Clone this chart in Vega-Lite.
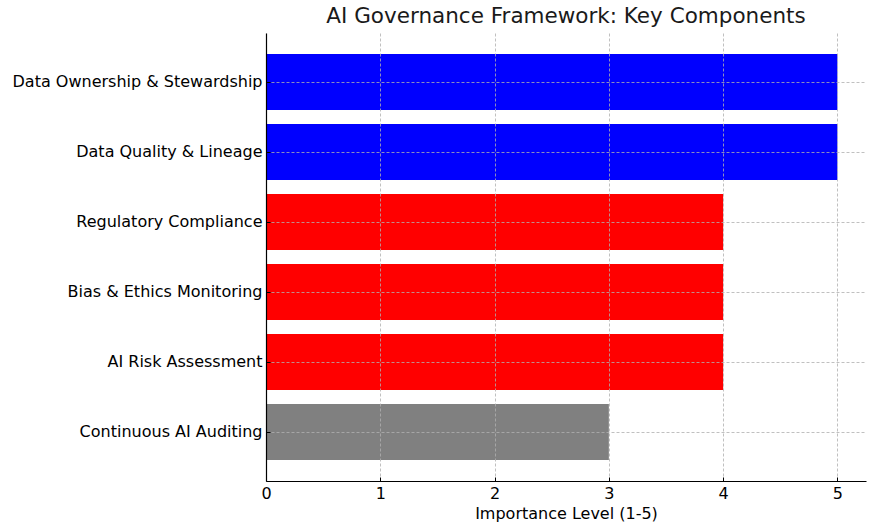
{
  "$schema": "https://vega.github.io/schema/vega-lite/v6.json",
  "width": 600,
  "height": 448,
  "autosize": {"type": "none"},
  "padding": {"left": 266, "top": 33, "right": 9, "bottom": 51},
  "background": "white",
  "title": {"text": "AI Governance Framework: Key Components", "font": "DejaVu Sans", "fontSize": 21.5, "fontWeight": "normal", "color": "#1a1a1a", "anchor": "middle", "offset": 6},
  "data": {"values": [
    {"component": "Data Ownership & Stewardship", "importance": 5, "group": "Data"},
    {"component": "Data Quality & Lineage", "importance": 5, "group": "Data"},
    {"component": "Regulatory Compliance", "importance": 4, "group": "Risk"},
    {"component": "Bias & Ethics Monitoring", "importance": 4, "group": "Risk"},
    {"component": "AI Risk Assessment", "importance": 4, "group": "Risk"},
    {"component": "Continuous AI Auditing", "importance": 3, "group": "Audit"}
  ]},
  "mark": {"type": "bar"},
  "encoding": {
    "y": {"field": "component", "type": "nominal", "sort": null,
      "scale": {"paddingInner": 0.2, "paddingOuter": 0.3},
      "axis": {"title": null, "labelFont": "DejaVu Sans", "labelFontSize": 16, "labelColor": "#000", "labelPadding": 8, "tickSize": -4, "tickColor": "#000", "domainColor": "#000", "domainWidth": 1.2, "grid": true, "gridColor": "#b0b0b0", "gridDash": [3, 2], "gridWidth": 0.8, "zindex": 1, "labelLimit": 400}},
    "x": {"field": "importance", "type": "quantitative",
      "scale": {"domain": [0, 5.25], "nice": false},
      "axis": {"title": "Importance Level (1-5)", "titleFont": "DejaVu Sans", "titleFontSize": 16, "titleFontWeight": "normal", "titleColor": "#000", "titlePadding": 4, "values": [0, 1, 2, 3, 4, 5], "format": "d", "labelFlush": false, "labelFont": "DejaVu Sans", "labelFontSize": 16, "labelColor": "#000", "labelPadding": 8, "tickSize": -4, "tickColor": "#000", "domainColor": "#000", "domainWidth": 1.2, "grid": true, "gridColor": "#b0b0b0", "gridDash": [3, 2], "gridWidth": 0.8, "zindex": 1}},
    "color": {"field": "group", "type": "nominal", "legend": null,
      "scale": {"domain": ["Data", "Risk", "Audit"], "range": ["#0000ff", "#ff0000", "#808080"]}}
  },
  "config": {"view": {"stroke": null}}
}
